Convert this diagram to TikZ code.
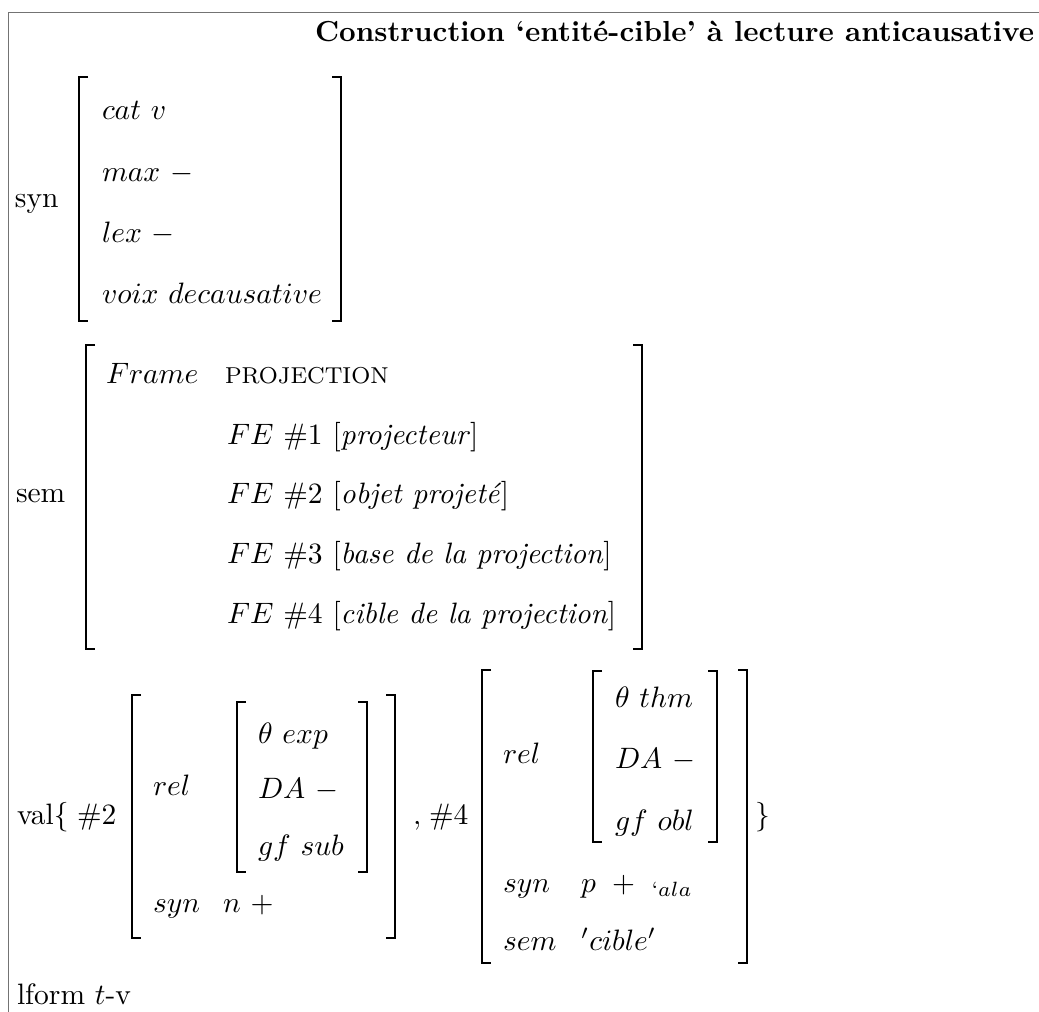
\documentclass[tikz,border=0pt]{standalone}
\begin{document}
\begin{tikzpicture}[x=0.339pt,y=-0.339pt,
  txt/.style={anchor=base west,inner sep=0pt,outer sep=0pt},
  brk/.style={line width=0.88pt,line cap=butt,line join=miter},
  frm/.style={line width=0.45pt,draw=black!55}]
\newcommand\LBr[3]{\draw[brk] (#1+9,#2) -- (#1,#2) -- (#1,#3) -- (#1+9,#3);}
\newcommand\RBr[3]{\draw[brk] (#1-9,#2) -- (#1,#2) -- (#1,#3) -- (#1-9,#3);}
\useasboundingbox (0,0) rectangle (1039,1012);
\draw[frm] (8.3,1012) -- (8.3,12.7) -- (1039,12.7);
% title
\node[txt,anchor=base east,scale=0.982] (title) at (1034,42) {\textbf{Construction ‘entité-cible’ à lecture anticausative}};
% syn
\node[txt] (synlab) at (15,207) {syn};
\LBr{79}{77}{321} \RBr{341}{77}{321}
\node[txt] (cat) at (102,120) {$cat\ v$};
\node[txt] (max) at (102,182) {$max\ -$};
\node[txt] (lex) at (102,242) {$lex\ -$};
\node[txt] (voix) at (102,303) {$voix\ decausative$};
% sem
\node[txt] (semlab) at (16,502) {sem};
\LBr{86}{345}{649} \RBr{642}{345}{649}
\node[txt] (frame) at (106,383) {$Frame$};
\node[txt] (proj) at (225,383) {\fontsize{7.8}{9}\selectfont PROJECTION};
\node[txt] (fe1) at (227,444) {$FE$ \#1 [\textit{projecteur}]};
\node[txt] (fe2) at (227,503) {$FE$ \#2 [\textit{objet projeté}]};
\node[txt] (fe3) at (227,563) {$FE$ \#3 [\textit{base de la projection}]};
\node[txt] (fe4) at (227,623) {$FE$ \#4 [\textit{cible de la projection}]};
% val
\node[txt] (val) at (17,824) {val\{};
\node[txt] (n2) at (77,824) {\#2};
\LBr{132}{695}{938} \RBr{395}{695}{938}
\node[txt] (rel2) at (153,795) {$rel$};
\LBr{237}{702}{872} \RBr{367}{702}{872}
\node[txt] (th2) at (258,743) {$\theta\ exp$};
\node[txt] (da2) at (258,798) {$DA\ -$};
\node[txt] (gf2) at (258,855) {$gf\ sub$};
\node[txt] (syn2) at (153,912) {$syn$};
\node[txt] (np2) at (223,912) {$n\ +$};
\node[txt] (comma) at (413,824) {$,$};
\node[txt] (n4) at (429,824) {\#4};
\LBr{482}{670}{963} \RBr{747}{670}{963}
\node[txt] (rel4) at (503,763) {$rel$};
\LBr{593}{671}{842} \RBr{717}{671}{842}
\node[txt] (th4) at (615,707) {$\theta\ thm$};
\node[txt] (da4) at (615,768) {$DA\ -$};
\node[txt] (gf4) at (615,830) {$gf\ obl$};
\node[txt] (syn4) at (503,892) {$syn$};
\node[txt] (pp4) at (581,892) {$p\ +\ {}_{\mbox{\scriptsize ‘}ala}$};
\node[txt] (sem4) at (503,950) {$sem$};
\node[txt] (cible) at (581,950) {$'cible'$};
\node[txt] (rbrace) at (755,824) {\}};
% lform
\node[txt] (lform) at (17,1004) {lform $t$-v};
\end{tikzpicture}
\end{document}
